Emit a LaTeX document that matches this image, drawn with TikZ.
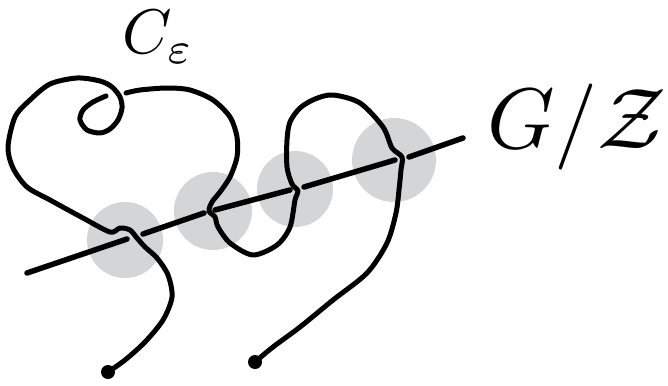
\documentclass[tikz,border=0pt]{standalone}
\usepackage{tikz}
\usetikzlibrary{calc}
\definecolor{diskgray}{RGB}{212,213,215}
\tikzset{
	disk/.style={circle, fill=diskgray, inner sep=0pt}
}
\tikzset{
	strand/.style={line width=5pt, line cap=round, line join=round}
}
\tikzset{
	axisline/.style={line width=5.5pt, line cap=round}
}
\tikzset{
	enddot/.style={circle, fill=black, inner sep=0pt, minimum size=14pt}
}

\begin{document}
\begin{tikzpicture}[x=1pt, y=-1pt]
      \useasboundingbox (0,0) rectangle (668,385);

      % gray disks round the four crossings
      \foreach \n/\x/\y/\r in {1/125/240/76pt, 2/213/211/78pt, 3/295/189/76pt, 4/394/160/84pt}
        \node[disk, minimum size=\r] (d\n) at (\x,\y) {};

      % the straight line, broken where the curve passes over it
      \coordinate (a0) at (27,273);  \coordinate (a1) at (127,239);
      \coordinate (a2) at (143,234); \coordinate (a3) at (204,213);
      \coordinate (a4) at (215,210); \coordinate (a5) at (290,190);
      \coordinate (a6) at (304,187); \coordinate (a7) at (395,160);
      \coordinate (a8) at (409,157); \coordinate (a9) at (463,138);
      \draw[axisline] (a0) -- (a1) (a2) -- (a3) (a4) -- (a5) (a6) -- (a7) (a8) -- (a9);

      \node[enddot] (e1) at (108,372) {};
      \node[enddot] (e2) at (255,362) {};

      % first part: from e1 up round the heart into the little loop
      \draw[strand] plot[smooth, tension=0.5] coordinates {
        (e1.center) (125,360) (145,342) (163,320) (172,297) (168,275) (157,258)
        (145,247) (137,238) (130,230) (120,228) (110,232) (83,218) (50,200)
        (27,187) (13,168) (8,147) (15,117) (30,100) (50,84) (77,78) (100,81)
        (112,87) (120,97) (122,108) (118,120) (110,129) (100,133) (87,130)
        (80,120) (83,110) (93,102) (106,96)};

      % second part: past the loop, through the other three crossings to e2
      \draw[strand] plot[smooth, tension=0.5] coordinates {
        (126,93) (140,90) (167,88) (190,90) (213,100) (230,117) (237,137)
        (237,157) (230,177) (220,192) (212,202) (209,211) (215,217) (218,227)
        (230,243) (253,255) (277,245) (290,227) (295,200) (298,191) (292,184)
        (287,167) (287,140) (290,122) (300,108) (315,99) (333,95) (360,103)
        (383,127) (392,148) (402,157) (401,170) (399,190) (396,213) (387,243)
        (367,273) (333,300) (300,327) (273,347) (e2.center)};

      \node[scale=6.3] (ce) at (158,37) {$C_\varepsilon$};
      \node[scale=8.6] (gz) at (577,127) {$G/\mathcal{Z}$};
\end{tikzpicture}
\end{document}
